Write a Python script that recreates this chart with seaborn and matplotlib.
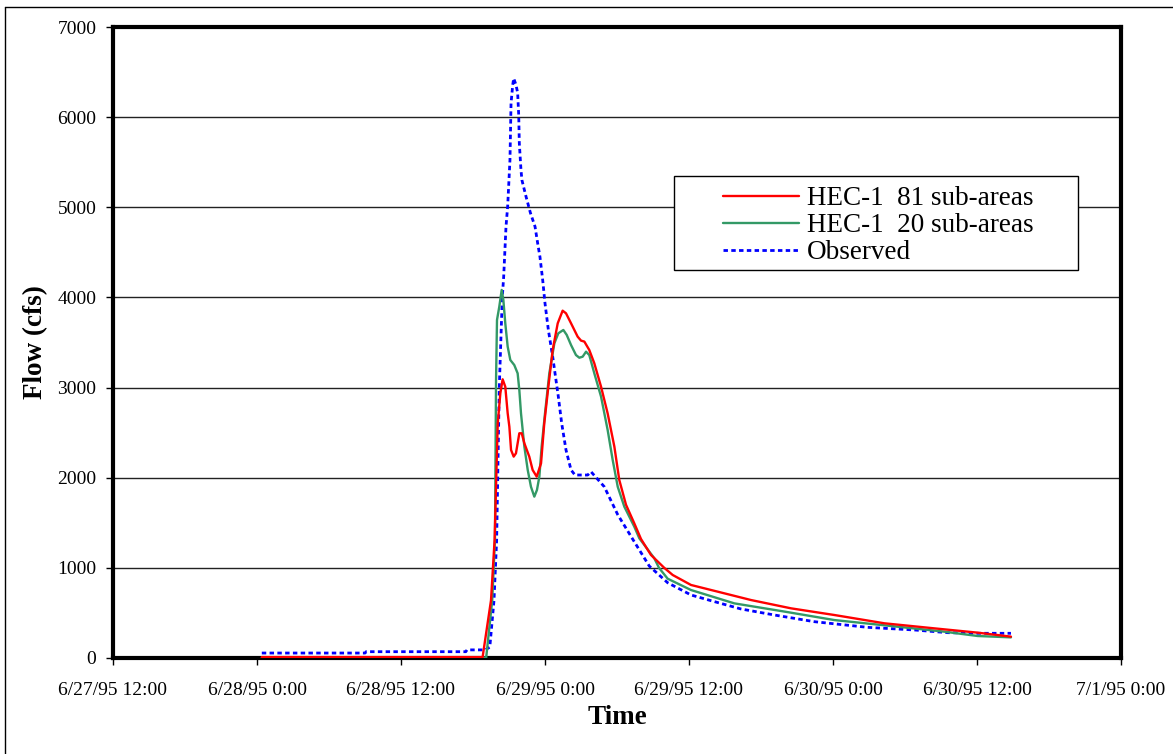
import numpy as np
import pandas as pd
import matplotlib
matplotlib.use("Agg")
import matplotlib.pyplot as plt
from matplotlib.lines import Line2D
from matplotlib.patches import Rectangle
import seaborn as sns

# Hours after 6/27/95 12:00 and simulated / observed flows (cfs)
hec81_hours = [12.4, 30.8, 31.5, 31.8, 32.06, 32.28, 32.47, 32.69, 32.89, 33.03, 33.17,
               33.39, 33.58, 33.72, 33.86, 34.06, 34.28, 34.69, 34.97, 35.31, 35.67,
               35.94, 36.28, 36.64, 37.06, 37.47, 37.75, 38.17, 38.72, 39.0, 39.28,
               39.69, 40.11, 40.67, 41.22, 41.78, 42.19, 42.75, 43.44, 44.0, 44.83,
               45.94, 46.64, 48.17, 50.39, 53.17, 56.5, 60.11, 64.28, 68.44, 72.06, 74.83]
hec81_flow = [10, 10, 640, 1310, 2600, 2937, 3092, 3010, 2714, 2566, 2308,
              2234, 2271, 2382, 2493, 2493, 2382, 2234, 2086, 2012, 2160,
              2604, 3010, 3417, 3713, 3853, 3824, 3713, 3565, 3521, 3510,
              3417, 3269, 3010, 2714, 2345, 1975, 1700, 1494, 1320, 1143,
              1000, 921, 810, 736, 643, 551, 477, 385, 329, 281, 237]

hec20_hours = [12.4, 31.1, 31.6, 31.83, 31.92, 32.0, 32.19, 32.39, 32.53, 32.69, 32.89,
               33.11, 33.44, 33.72, 33.86, 34.0, 34.28, 34.56, 34.83, 35.11, 35.33,
               35.53, 35.72, 36.0, 36.36, 36.78, 37.11, 37.53, 37.81, 38.17, 38.58,
               38.86, 39.14, 39.42, 39.69, 40.11, 40.67, 41.22, 41.64, 42.06, 42.61,
               43.44, 43.86, 45.11, 45.5, 46.22, 48.17, 51.78, 56.0, 60.11, 64.83,
               69.28, 72.06, 74.83]
hec20_flow = [5, 5, 640, 1310, 3084, 3750, 3897, 4083, 3972, 3713, 3454,
              3306, 3250, 3158, 2973, 2714, 2345, 2086, 1900, 1790, 1864,
              2012, 2345, 2714, 3158, 3491, 3602, 3639, 3584, 3472, 3361,
              3331, 3343, 3398, 3361, 3158, 2900, 2530, 2197, 1900, 1679,
              1457, 1328, 1106, 1000, 880, 754, 606, 514, 421, 355,
              292, 244, 229]

obs_hours = [12.4, 21.0, 21.1, 29.4, 29.5, 31.0, 31.4, 31.75, 31.97, 32.06, 32.19,
             32.44, 32.56, 32.75, 32.89, 33.08, 33.17, 33.31, 33.39, 33.58, 33.72,
             33.81, 33.86, 34.0, 34.08, 34.42, 34.78, 35.17, 35.39, 35.58, 35.81,
             36.0, 36.28, 36.64, 37.11, 37.39, 37.75, 38.17, 38.5, 39.56, 39.83,
             40.94, 42.06, 43.44, 44.69, 46.22, 48.17, 49.83, 52.33, 55.11, 58.44,
             62.89, 66.78, 69.56, 72.06, 74.83]
obs_flow = [55, 55, 70, 70, 90, 90, 120, 640, 1310, 2000, 3000,
            4000, 4238, 4785, 5014, 5525, 6154, 6357, 6431, 6360, 6270,
            6020, 5710, 5410, 5300, 5118, 4940, 4785, 4600, 4450, 4190,
            3935, 3639, 3343, 2900, 2604, 2308, 2086, 2030, 2030, 2067,
            1900, 1590, 1290, 1020, 835, 699, 636, 544, 477, 403,
            340, 311, 281, 274, 274]

series_names = ["HEC-1  81 sub-areas", "HEC-1  20 sub-areas", "Observed"]
x_tick_labels = ["6/27/95 12:00", "6/28/95 0:00", "6/28/95 12:00", "6/29/95 0:00",
                 "6/29/95 12:00", "6/30/95 0:00", "6/30/95 12:00", "7/1/95 0:00"]
y_ticks = [0, 1000, 2000, 3000, 4000, 5000, 6000, 7000]

sns.set_theme(style="white")
plt.rcParams["font.family"] = ["Liberation Serif", "DejaVu Serif"]

W, H = 1173, 754
fig = plt.figure(figsize=(W / 100, H / 100), dpi=100)
fig.patch.set_facecolor("white")

# axes box in pixel terms
L, R, T, B = 113, 1121, 27, 658
ax = fig.add_axes([L / W, (H - B) / H, (R - L) / W, (B - T) / H])

frames = [
    pd.DataFrame({"hours": hec81_hours, "flow": hec81_flow, "series": series_names[0]}),
    pd.DataFrame({"hours": hec20_hours, "flow": hec20_flow, "series": series_names[1]}),
    pd.DataFrame({"hours": obs_hours, "flow": obs_flow, "series": series_names[2]}),
]
styles = [
    dict(color="#FF0000", lw=1.7, ls="-"),
    dict(color="#339966", lw=1.7, ls="-"),
    dict(color="#0000FF", lw=2.0, ls=(0, (1.6, 1.2))),
]
# observed drawn first so the modelled hydrographs sit on top
for idx in [2, 1, 0]:
    st = styles[idx]
    sns.lineplot(data=frames[idx], x="hours", y="flow", ax=ax, color=st["color"],
                 linewidth=st["lw"], linestyle=st["ls"], estimator=None, sort=False,
                 legend=False, zorder=3 + (2 - idx))

ax.set_xlim(0, 84)
ax.set_ylim(0, 7000)
ax.set_xticks(np.arange(0, 85, 12))
ax.set_xticklabels(x_tick_labels)
ax.set_yticks(y_ticks)
ax.set_yticklabels([str(v) for v in y_ticks])

ax.yaxis.grid(True, color="#222222", linewidth=1.0)
ax.xaxis.grid(False)
ax.set_axisbelow(True)

for sp in ax.spines.values():
    sp.set_visible(True)
    sp.set_color("black")
    sp.set_linewidth(3.0)

ax.tick_params(axis="both", which="major", direction="out", length=5, width=1.0,
               color="black", labelsize=14, labelcolor="black")
ax.tick_params(axis="x", pad=12)
ax.tick_params(axis="y", pad=7)
ax.tick_params(bottom=True, left=True)

ax.set_xlabel("Time", fontsize=19.5, fontweight="bold", color="black")
ax.set_ylabel("Flow (cfs)", fontsize=19.5, fontweight="bold", color="black")
ax.xaxis.label.set_va("center")
ax.yaxis.label.set_va("center")
ax.xaxis.set_label_coords(0.5, -(718 - B) / (B - T))
ax.yaxis.set_label_coords(-(L - 36) / (R - L), 0.5)

# legend
handles = [Line2D([], [], color=s["color"], lw=s["lw"], ls=s["ls"]) for s in styles]
leg = ax.legend(handles, series_names, loc="upper left", frameon=False,
                fontsize=19.5, handlelength=2.8, handletextpad=0.3, labelspacing=0.08,
                borderpad=0.0, borderaxespad=0.0,
                bbox_to_anchor=((723 - L) / (R - L), (B - 186) / (B - T)))
for t in leg.get_texts():
    t.set_color("black")
# legend box
lx0, lx1, ly0, ly1 = 674, 1078, 176, 270
ax.add_patch(Rectangle(((lx0 - L) / (R - L), (B - ly1) / (B - T)),
                       (lx1 - lx0) / (R - L), (ly1 - ly0) / (B - T),
                       transform=ax.transAxes, facecolor="white", edgecolor="black",
                       linewidth=1.0, zorder=6))
leg.set_zorder(7)

# outer chart border
fig.add_artist(Line2D([5 / W, 5 / W], [0, 1 - 7 / H], transform=fig.transFigure,
                      color="black", lw=1.0))
fig.add_artist(Line2D([5 / W, 1], [1 - 7 / H, 1 - 7 / H], transform=fig.transFigure,
                      color="black", lw=1.0))

fig.savefig("out.png", dpi=100, facecolor="white")
